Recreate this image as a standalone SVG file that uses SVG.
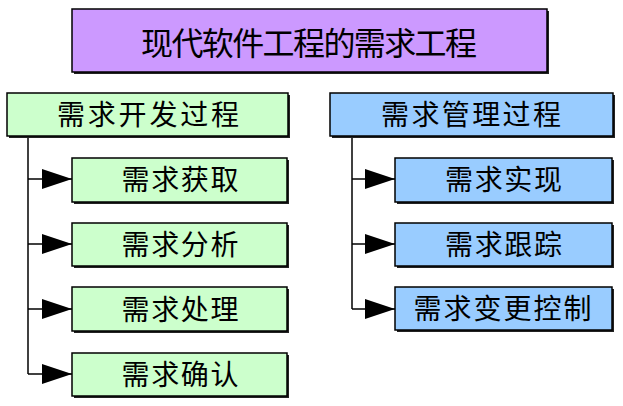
<svg xmlns="http://www.w3.org/2000/svg" width="623" height="406" viewBox="0 0 623 406">
<style>
.shadow{fill:#222}
.box{stroke:#000;stroke-width:1.5}
.t{font-family:"Noto Sans CJK SC","Noto Sans CJK JP",sans-serif;fill:#000;text-anchor:middle}
.purple{fill:#CC99FF}
.green{fill:#CCFFCC}
.blue{fill:#99CCFF}
.conn{fill:none;stroke:#000;stroke-width:1.5}
</style>
<defs>
<marker id="arr" markerUnits="userSpaceOnUse" markerWidth="30" markerHeight="20" refX="30" refY="10" orient="auto" viewBox="0 0 30 20">
<path d="M0,0 L30,10 L0,20 z" fill="#000"/>
</marker>
</defs>
<rect width="623" height="406" fill="#fff"/>
<g id="connectors">
<path class="conn" d="M28,136 V374"/>
<path class="conn" d="M28,179 H72" marker-end="url(#arr)"/>
<path class="conn" d="M28,244 H72" marker-end="url(#arr)"/>
<path class="conn" d="M28,309 H72" marker-end="url(#arr)"/>
<path class="conn" d="M28,374 H72" marker-end="url(#arr)"/>
<path class="conn" d="M352,136 V309"/>
<path class="conn" d="M352,179 H395" marker-end="url(#arr)"/>
<path class="conn" d="M352,244 H395" marker-end="url(#arr)"/>
<path class="conn" d="M352,309 H395" marker-end="url(#arr)"/>
</g>
<g id="root">
<rect class="shadow" x="74" y="11" width="475" height="63"/>
<rect class="box purple" x="72" y="9" width="475" height="63"/>
<text class="t" x="309" y="55" font-size="32" textLength="336" lengthAdjust="spacing">现代软件工程的需求工程</text>
</g>
<g id="dev">
<rect class="shadow" x="9" y="95" width="281" height="43"/>
<rect class="box green" x="7" y="93" width="281" height="43"/>
<text class="t" x="148" y="124.5" font-size="28" textLength="182" lengthAdjust="spacing">需求开发过程</text>
</g>
<g id="elicit">
<rect class="shadow" x="74" y="160" width="215" height="44"/>
<rect class="box green" x="72" y="158" width="215" height="44"/>
<text class="t" x="180" y="189.5" font-size="28" textLength="117" lengthAdjust="spacing">需求获取</text>
</g>
<g id="analysis">
<rect class="shadow" x="74" y="225" width="215" height="43"/>
<rect class="box green" x="72" y="223" width="215" height="43"/>
<text class="t" x="180" y="254.5" font-size="28" textLength="117" lengthAdjust="spacing">需求分析</text>
</g>
<g id="process">
<rect class="shadow" x="74" y="289" width="215" height="44"/>
<rect class="box green" x="72" y="287" width="215" height="44"/>
<text class="t" x="180" y="319.5" font-size="28" textLength="117" lengthAdjust="spacing">需求处理</text>
</g>
<g id="confirm">
<rect class="shadow" x="74" y="355" width="215" height="43"/>
<rect class="box green" x="72" y="353" width="215" height="43"/>
<text class="t" x="180" y="385" font-size="28" textLength="117" lengthAdjust="spacing">需求确认</text>
</g>
<g id="mgmt">
<rect class="shadow" x="332" y="95" width="283" height="43"/>
<rect class="box blue" x="330" y="93" width="283" height="43"/>
<text class="t" x="471" y="124.5" font-size="28" textLength="180" lengthAdjust="spacing">需求管理过程</text>
</g>
<g id="implement">
<rect class="shadow" x="397" y="160" width="217" height="44"/>
<rect class="box blue" x="395" y="158" width="217" height="44"/>
<text class="t" x="503.5" y="189.5" font-size="28" textLength="117" lengthAdjust="spacing">需求实现</text>
</g>
<g id="trace">
<rect class="shadow" x="397" y="225" width="217" height="43"/>
<rect class="box blue" x="395" y="223" width="217" height="43"/>
<text class="t" x="503.5" y="254.5" font-size="28" textLength="117" lengthAdjust="spacing">需求跟踪</text>
</g>
<g id="change">
<rect class="shadow" x="397" y="289" width="217" height="43"/>
<rect class="box blue" x="395" y="287" width="217" height="43"/>
<text class="t" x="502.5" y="319" font-size="28" textLength="178" lengthAdjust="spacing">需求变更控制</text>
</g>
</svg>
